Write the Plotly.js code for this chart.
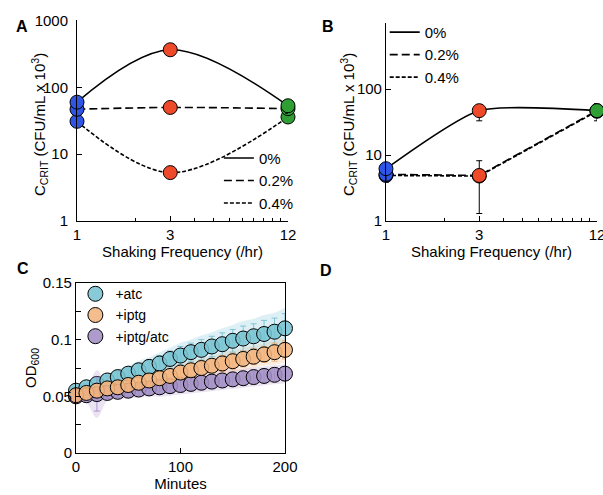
<!DOCTYPE html>
<html><head><meta charset="utf-8">
<script src="https://cdn.plot.ly/plotly-3.0.1.min.js"></script>
<style>html,body{margin:0;padding:0;background:#fff}#chart{width:603px;height:495px}</style>
</head><body><div id="chart"></div>
<script>
// ---------- Panel A : C_CRIT vs shaking frequency ----------
const freq = [1, 3, 12];
const freqTicks = [1, 3, 12];
const freqMinor = [2, 4, 5, 6, 7, 8, 9, 10, 11];
const seriesNames = ['0%', '0.2%', '0.4%'];
const pointColors = ['#2f55e6', '#ee4a2a', '#2f9e35'];

const aPct0 = [60, 365, 53];
const aPct02 = [47, 50, 48];
const aPct04 = [31, 5.3, 36];
const aErr0 = [4, 25, 12];
const aErr02 = [3, 4, 4];
const aErr04 = [2, 0.4, 3];

// ---------- Panel B ----------
const bPct0 = [6.2, 47, 47];
const bPct02 = [5.1, 4.9, 47];
const bPct04 = [4.9, 4.8, 46];
const bErr0Plus = [1, 11, 13];
const bErr0Minus = [2.3, 14, 14];
const bErr02Plus = [1, 3.3, 10];
const bErr02Minus = [1, 3.6, 10];
const bErr04Plus = [0.8, 0.8, 9];
const bErr04Minus = [0.8, 0.8, 9];

// ---------- Panel C : OD600 growth ----------
const minutes = [0,10,20,30,40,50,60,70,80,90,100,110,120,130,140,150,160,170,180,190,200];
const odAtc  = [0.055,0.058,0.061,0.064,0.067,0.070,0.073,0.076,0.079,0.083,0.086,0.089,0.091,0.094,0.096,0.099,0.101,0.103,0.105,0.107,0.110];
const odIptg = [0.051,0.053,0.055,0.057,0.058,0.060,0.062,0.064,0.066,0.068,0.071,0.073,0.075,0.077,0.079,0.081,0.083,0.085,0.087,0.089,0.091];
const odBoth = [0.050,0.051,0.052,0.053,0.054,0.055,0.056,0.057,0.058,0.059,0.060,0.061,0.062,0.063,0.064,0.065,0.066,0.067,0.068,0.069,0.070];
const errAtc  = [0.003,0.003,0.004,0.004,0.005,0.005,0.006,0.006,0.007,0.007,0.008,0.008,0.009,0.009,0.010,0.010,0.011,0.011,0.012,0.012,0.013];
const errIptg = [0.003,0.003,0.004,0.004,0.004,0.005,0.005,0.005,0.005,0.006,0.006,0.006,0.006,0.006,0.007,0.007,0.007,0.007,0.007,0.008,0.008];
const errBoth = [0.004,0.005,0.015,0.005,0.005,0.005,0.005,0.005,0.006,0.006,0.006,0.006,0.006,0.006,0.006,0.006,0.006,0.006,0.006,0.006,0.006];
const odNames = ['+atc', '+iptg', '+iptg/atc'];
const odLineColors = ['rgba(110,185,205,0.8)', 'rgba(235,165,100,0.8)', 'rgba(160,135,200,0.8)'];
const odFill = ['rgba(120,195,210,0.88)', 'rgba(242,180,125,0.88)', 'rgba(162,142,196,0.88)'];
const odBand = ['rgba(120,195,215,0.25)', 'rgba(242,180,125,0.25)', 'rgba(170,145,205,0.25)'];

const FONT = 'Liberation Sans, Arial, sans-serif';
const dashes = ['solid', '8px,4px', '4px,2px'];

function lineTrace(y, i, xa, ya, legend, shape, smooth) {
  return {x: freq, y: y, xaxis: xa, yaxis: ya, mode: 'lines', name: seriesNames[i],
    legend: legend, line: {color: '#000', width: 1.6, dash: dashes[i], shape: shape, smoothing: smooth},
    hoverinfo: 'skip'};
}
function markerTrace(y, plus, minus, xa, ya) {
  return {x: freq, y: y, xaxis: xa, yaxis: ya, mode: 'markers', showlegend: false, cliponaxis: false,
    marker: {size: 14, color: pointColors, line: {color: '#000', width: 1}},
    error_y: {type: 'data', symmetric: false, array: plus, arrayminus: minus, color: '#000', thickness: 1, width: 3}};
}

const traces = [];
// Panel A
traces.push(lineTrace(aPct0, 0, 'x', 'y', 'legend', 'spline', 1));
traces.push(lineTrace(aPct02, 1, 'x', 'y', 'legend', 'spline', 1));
traces.push(lineTrace(aPct04, 2, 'x', 'y', 'legend', 'spline', 1));
traces.push(markerTrace(aPct04, aErr04, aErr04, 'x', 'y'));
traces.push(markerTrace(aPct02, aErr02, aErr02, 'x', 'y'));
traces.push(markerTrace(aPct0, aErr0, aErr0, 'x', 'y'));
// Panel B
traces.push(lineTrace(bPct0, 0, 'x2', 'y2', 'legend2', 'spline', 0.6));
traces.push(lineTrace(bPct02, 1, 'x2', 'y2', 'legend2', 'linear', 0));
traces.push(lineTrace(bPct04, 2, 'x2', 'y2', 'legend2', 'linear', 0));
traces.push(markerTrace(bPct04, bErr04Plus, bErr04Minus, 'x2', 'y2'));
traces.push(markerTrace(bPct02, bErr02Plus, bErr02Minus, 'x2', 'y2'));
traces.push(markerTrace(bPct0, bErr0Plus, bErr0Minus, 'x2', 'y2'));

// Panel C bands
const odSeries = [odAtc, odIptg, odBoth];
const odErrs = [errAtc, errIptg, errBoth];
const bandScale = 1.4;
[2, 1, 0].forEach(function (k) {
  const up = odSeries[k].map(function (v, j) { return v + odErrs[k][j] * bandScale; });
  const lo = odSeries[k].map(function (v, j) { return v - odErrs[k][j] * bandScale; });
  traces.push({x: minutes, y: up, xaxis: 'x3', yaxis: 'y3', mode: 'lines', line: {width: 0, shape: 'spline'},
    showlegend: false, hoverinfo: 'skip'});
  traces.push({x: minutes, y: lo, xaxis: 'x3', yaxis: 'y3', mode: 'lines', line: {width: 0, shape: 'spline'},
    fill: 'tonexty', fillcolor: odBand[k], showlegend: false, hoverinfo: 'skip'});
});
// Panel C markers (draw order: atc, +iptg/atc, +iptg)
[0, 2, 1].forEach(function (k) {
  traces.push({x: minutes, y: odSeries[k], xaxis: 'x3', yaxis: 'y3', mode: 'markers', name: odNames[k],
    legend: 'legend3', legendrank: k + 1, cliponaxis: false,
    marker: {size: 15, color: odFill[k], line: {color: '#000', width: 1}},
    error_y: {type: 'data', array: odErrs[k], color: odLineColors[k], thickness: 1, width: 3}});
});

const tickFont = {family: FONT, size: 15, color: '#000'};
function logX(domain) {
  return {type: 'log', range: [0, Math.log10(12)], domain: domain, tickvals: freqTicks, ticktext: freqTicks.map(String),
    ticks: 'inside', ticklen: 5, tickcolor: '#000', showline: true, linecolor: '#000', linewidth: 1,
    showgrid: false, zeroline: false, tickfont: tickFont, ticklabeloverflow: 'allow',
    minor: {tickvals: freqMinor, ticks: 'inside', ticklen: 3, tickcolor: '#000', showgrid: false},
    title: {text: 'Shaking Frequency (/hr)', font: {family: FONT, size: 15, color: '#000'}, standoff: 2}};
}
function logY(domain, vals) {
  return {type: 'log', range: [0, 3], domain: domain, tickvals: vals, ticktext: vals.map(String),
    ticks: 'inside', ticklen: 5, tickcolor: '#000', showline: true, linecolor: '#000', linewidth: 1,
    showgrid: false, zeroline: false, tickfont: tickFont};
}

const yTitle = 'C<sub>CRIT</sub> (CFU/mL x 10<sup>3</sup>)';
const legendFont = {family: FONT, size: 15, color: '#000'};
const layout = {
  width: 603, height: 495, margin: {l: 0, r: 0, t: 0, b: 0}, paper_bgcolor: '#fff', plot_bgcolor: '#fff',
  font: {family: FONT, color: '#000'},
  xaxis: Object.assign(logX([0.1277, 0.4776]), {anchor: 'y'}),
  yaxis: Object.assign(logY([0.5535, 0.9586], [1, 10, 100, 1000]), {anchor: 'x', ticklabelstandoff: 5}),
  xaxis2: Object.assign(logX([0.6401, 0.9900]), {anchor: 'y2'}),
  yaxis2: Object.assign(logY([0.5535, 0.9535], [1, 10, 100]), {anchor: 'x2'}),
  xaxis3: {domain: [0.1260, 0.4726], range: [0, 200], anchor: 'y3', tickvals: [0, 100, 200], ticks: 'inside', ticklen: 5,
    tickcolor: '#000', showline: true, mirror: true, linecolor: '#000', showgrid: false, zeroline: false, tickfont: tickFont,
    title: {text: 'Minutes', font: {family: FONT, size: 15, color: '#000'}, standoff: 0}},
  yaxis3: {domain: [0.0848, 0.4283], range: [0, 0.15], anchor: 'x3', tickvals: [0, 0.05, 0.1, 0.15], ticktext: ['0', '0.05', '0.1', '0.15'],
    ticks: 'inside', ticklen: 5, tickcolor: '#000', showline: true, mirror: true, linecolor: '#000', showgrid: false, zeroline: false,
    tickfont: tickFont, minor: {tickvals: [0.025, 0.075, 0.125], ticks: 'inside', ticklen: 5, tickcolor: '#000'},
    title: {text: 'OD<sub>600</sub>', font: {family: FONT, size: 15, color: '#000'}, standoff: 2}},
  legend: {x: 0.363, y: 0.556, xanchor: 'left', yanchor: 'bottom', bgcolor: 'rgba(0,0,0,0)', font: legendFont,
    itemwidth: 30, tracegroupgap: 0, traceorder: 'normal'},
  legend2: {x: 0.638, y: 0.968, xanchor: 'left', yanchor: 'top', bgcolor: 'rgba(0,0,0,0)', font: legendFont,
    itemwidth: 30, tracegroupgap: 0, traceorder: 'normal'},
  legend3: {x: 0.125, y: 0.438, xanchor: 'left', yanchor: 'top', bgcolor: 'rgba(0,0,0,0)', font: {family: FONT, size: 14, color: '#000'},
    itemwidth: 30, tracegroupgap: 0, traceorder: 'normal'},
  showlegend: true,
  annotations: [
    {text: yTitle, xref: 'paper', yref: 'paper', x: 39 / 603, y: 1 - 125 / 495, xanchor: 'center', yanchor: 'middle', textangle: -90, showarrow: false, font: {family: FONT, size: 15, color: '#000'}},
    {text: yTitle, xref: 'paper', yref: 'paper', x: 348 / 603, y: 1 - 125 / 495, xanchor: 'center', yanchor: 'middle', textangle: -90, showarrow: false, font: {family: FONT, size: 15, color: '#000'}},
    {text: '<b>A</b>', xref: 'paper', yref: 'paper', x: 14 / 603, y: 1 - 16 / 495, showarrow: false, font: {family: FONT, size: 16, color: '#000'}},
    {text: '<b>B</b>', xref: 'paper', yref: 'paper', x: 328 / 603, y: 1 - 16 / 495, showarrow: false, font: {family: FONT, size: 16, color: '#000'}},
    {text: '<b>C</b>', xref: 'paper', yref: 'paper', x: 15 / 603, y: 1 - 268 / 495, showarrow: false, font: {family: FONT, size: 16, color: '#000'}},
    {text: '<b>D</b>', xref: 'paper', yref: 'paper', x: 326 / 603, y: 1 - 270 / 495, showarrow: false, font: {family: FONT, size: 16, color: '#000'}}
  ]
};

Plotly.newPlot('chart', traces, layout, {staticPlot: true, displayModeBar: false});
</script>
</body></html>
